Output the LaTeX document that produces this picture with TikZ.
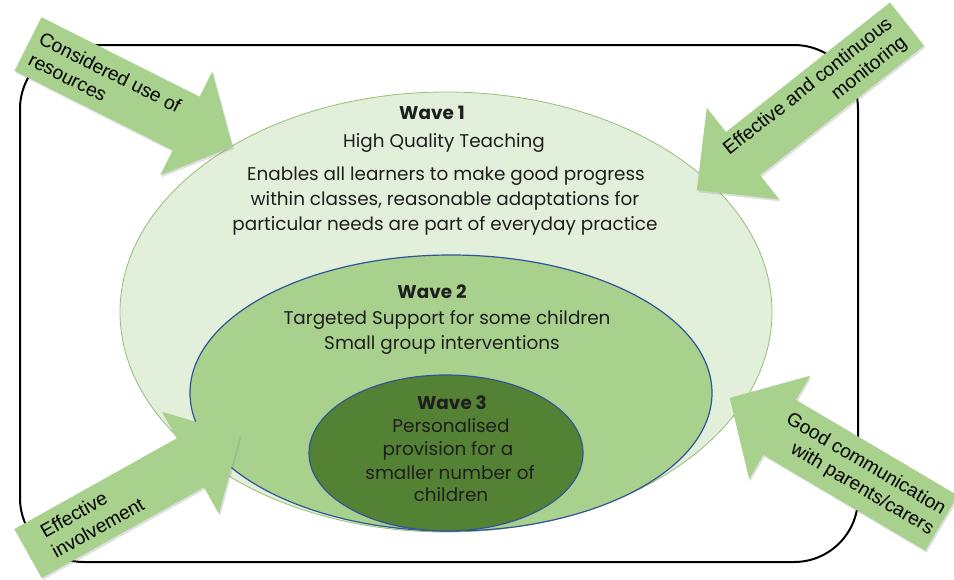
\documentclass[tikz,border=0pt]{standalone}
\usepackage{fontspec}
\setmainfont{Poppins}
\newfontfamily\arialfont{Liberation Sans}
\usetikzlibrary{shapes.geometric,shadows}
\definecolor{wone}{RGB}{226,239,218}
\definecolor{wonebd}{RGB}{150,190,120}
\definecolor{wtwo}{RGB}{169,209,142}
\definecolor{wthree}{RGB}{84,130,53}
\definecolor{wblue}{RGB}{47,85,151}
\definecolor{arrowfill}{RGB}{169,209,142}
\definecolor{txt}{RGB}{30,30,30}
\newcommand\blockarr[7]{%
  \begin{scope}[shift={(#2)}, rotate=#3]
    \path[arr] (0,-#5/2) -- (#4-#7,-#5/2) -- (#4-#7,-#6/2) -- (#4,0)
      -- (#4-#7,#6/2) -- (#4-#7,#5/2) -- (0,#5/2) -- cycle;
    \coordinate (#1) at (0,0);
  \end{scope}}
\begin{document}
\begin{tikzpicture}[x=0.75pt,y=-0.75pt,
  wave/.style={ellipse, inner sep=0pt, outer sep=0pt, draw},
  wtext/.style={font=\fontsize{13.8}{18.75}\selectfont, text=txt, align=center, inner sep=0pt, anchor=base},
  wbold/.style={wtext, font=\fontsize{13.8}{18.75}\selectfont\bfseries},
  arr/.style={fill=arrowfill, drop shadow={shadow xshift=1pt, shadow yshift=-1.5pt, opacity=0.25}},
  atext/.style={font=\arialfont\fontsize{14.4}{17.5}\selectfont, inner sep=0pt, text=black}]
\useasboundingbox (0,0) rectangle (954,579);
\fill[white] (0,0) rectangle (954,579);
\draw[line width=1.5pt, rounded corners=48pt] (20,45) rectangle (858,562);

\node[wave, fill=wone, draw=wonebd, line width=0.6pt, minimum width=489pt, minimum height=330pt] (w1) at (446,312) {};
\node[wave, fill=wtwo, draw=wblue, line width=0.9pt, minimum width=391.5pt, minimum height=207pt] (w2) at (451,393) {};
\node[wave, fill=wthree, draw=wblue, line width=0.9pt, minimum width=205.5pt, minimum height=117pt] (w3) at (446,453) {};

\node[wbold] (t1) at (432,119) {Wave 1};
\node[wtext] (t2) at (444,147) {High Quality Teaching};
\node[wtext] (t3) at (446,180) {Enables all learners to make good progress};
\node[wtext] (t4) at (445,205) {within classes, reasonable adaptations for};
\node[wtext] (t5) at (445,230) {particular needs are part of everyday practice};

\node[wbold] (t6) at (432,298) {Wave 2};
\node[wtext] (t7) at (447,324) {Targeted Support for some children};
\node[wtext] (t8) at (442,349) {Small group interventions};

\node[wbold] (t9) at (452,409) {Wave 3};
\node[wtext] (t10) at (451,432) {Personalised};
\node[wtext] (t11) at (448,455) {provision for a};
\node[wtext] (t12) at (450,479) {smaller number of};
\node[wtext] (t13) at (451,501) {children};

\blockarr{a1}{28,44}{-26.68}{229}{60}{116}{52}
\blockarr{a2}{907,24}{218.33}{268}{55}{117}{59}
\blockarr{a3}{28,553.5}{29.2}{243}{56}{117}{57}
\blockarr{a4}{941.5,523}{149.42}{246}{64}{120}{58}

\begin{scope}[shift={(a1)}, rotate=-26.68]
  \node[atext, rotate=-26.68, anchor=west, align=left] (l1) at (8,0) {Considered use of\\resources};
\end{scope}
\begin{scope}[shift={(a2)}, rotate=218.33]
  \node[atext, rotate=38.33, anchor=east, align=right] (l2) at (12,0) {Effective and continuous\\monitoring};
\end{scope}
\begin{scope}[shift={(a3)}, rotate=29.2]
  \node[atext, rotate=29.2, anchor=west, align=left] (l3) at (22,0) {Effective\\involvement};
\end{scope}
\begin{scope}[shift={(a4)}, rotate=149.42]
  \node[atext, rotate=-30.58, anchor=east, align=right] (l4) at (4,0) {Good communication\\with parents/carers};
\end{scope}
\end{tikzpicture}
\end{document}
